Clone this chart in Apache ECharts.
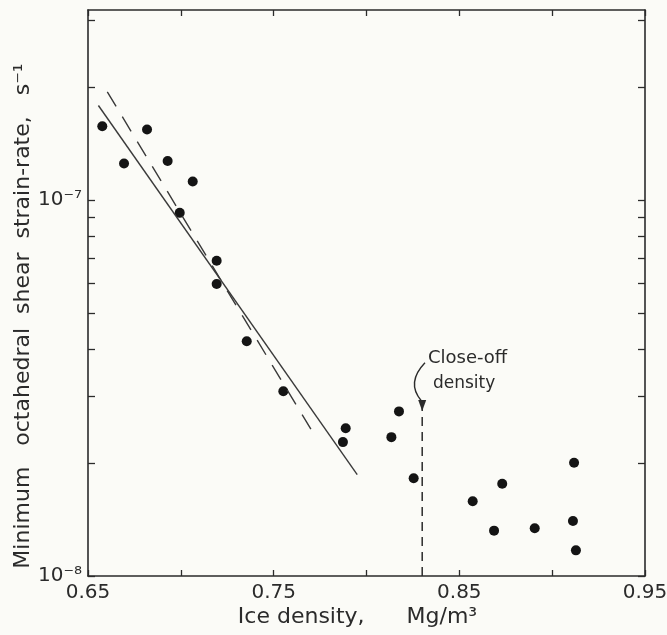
<!DOCTYPE html>
<html>
<head>
<meta charset="utf-8">
<script src="https://cdn.jsdelivr.net/npm/echarts@6/dist/echarts.min.js"></script>
<style>
  html, body { margin: 0; padding: 0; background: #fbfbf7; }
  #chart { width: 667px; height: 635px; }
</style>
</head>
<body>
<div id="chart"></div>
<script>
// measured points: ice density (Mg/m3) vs minimum octahedral shear strain-rate (s-1)
const density = [0.6577, 0.6694, 0.6818, 0.6929, 0.7064, 0.6994, 0.7193, 0.7193, 0.7355, 0.7552,
  0.7888, 0.7873, 0.8175, 0.8134, 0.8254, 0.8572, 0.8731, 0.8687, 0.8906, 0.9118, 0.9112, 0.9128];
const strainRate = [1.57e-7, 1.25e-7, 1.54e-7, 1.27e-7, 1.12e-7, 9.24e-8, 6.89e-8, 5.98e-8, 4.21e-8, 3.10e-8,
  2.47e-8, 2.27e-8, 2.74e-8, 2.34e-8, 1.82e-8, 1.58e-8, 1.76e-8, 1.32e-8, 1.34e-8, 2.00e-8, 1.40e-8, 1.17e-8];

// fitted lines (end points)
const solidFitX = [0.6556, 0.7950];
const solidFitY = [1.783e-7, 1.861e-8];
const dashFitX = [0.6604, 0.7724];
const dashFitY = [1.938e-7, 2.35e-8];

// close-off density marker
const closeOff = 0.83;
const closeOffY = [1e-8, 2.84e-8];

const xTicks = [0.65, 0.70, 0.75, 0.80, 0.85, 0.90, 0.95];
const xTickLabels = ['0.65', '', '0.75', '', '0.85', '', '0.95'];
const yMin = 1e-8, yMax = 3.2e-7;
const yMinor = [1e-8, 2e-8, 3e-8, 4e-8, 5e-8, 6e-8, 7e-8, 8e-8, 9e-8, 1e-7, 2e-7, 3e-7];
const yLabelValues = [1e-8, 1e-7];
const yLabelText = ['10⁻⁸', '10⁻⁷'];

const ink = '#2b2b2b';
const font = 'DejaVu Sans';

const chart = echarts.init(document.getElementById('chart'));

const tickY = {
  type: 'value',
  min: Math.log10(yMin),
  max: Math.log10(yMax),
  splitLine: { show: false },
  axisLine: { show: true, lineStyle: { color: ink, width: 1.6 } },
  axisTick: { show: true, inside: true, length: 7, lineStyle: { color: ink, width: 1.3 },
    customValues: yMinor.map(v => Math.log10(v)) }
};

const xBase = {
  type: 'value',
  min: 0.65,
  max: 0.95,
  interval: 0.05,
  splitLine: { show: false },
  axisLine: { show: true, onZero: false, lineStyle: { color: ink, width: 1.6 } },
  axisTick: { show: true, inside: true, length: 6, lineStyle: { color: ink, width: 1.3 } }
};

const option = {
  backgroundColor: '#fbfbf7',
  animation: false,
  grid: { left: 88, right: 22, top: 10, bottom: 59, outerBoundsMode: 'none' },
  xAxis: [
    Object.assign({}, xBase, {
      position: 'bottom',
      name: 'Ice density,      Mg/m³',
      nameLocation: 'middle',
      nameGap: 30,
      nameMoveOverlap: false,
      nameTextStyle: { fontFamily: font, fontSize: 22, color: ink, padding: [0, 18, 0, 0] },
      axisLabel: {
        margin: 7, fontFamily: font, fontSize: 20, color: ink,
        formatter: v => xTickLabels[xTicks.findIndex(t => Math.abs(t - v) < 1e-6)] || ''
      }
    }),
    Object.assign({}, xBase, { position: 'top', axisLabel: { show: false } })
  ],
  yAxis: [
    { type: 'log', logBase: 10, min: yMin, max: yMax, show: false },
    Object.assign({}, tickY, {
      position: 'left',
      name: 'Minimum   octahedral  shear  strain-rate,   s⁻¹',
      nameLocation: 'middle',
      nameGap: 54,
      nameMoveOverlap: false,
      nameTextStyle: { fontFamily: font, fontSize: 22, color: ink, padding: [0, 46, 0, 0] },
      axisLabel: {
        margin: 6, fontFamily: font, fontSize: 20, color: ink,
        customValues: yLabelValues.map(v => Math.log10(v)),
        formatter: v => {
          const i = yLabelValues.findIndex(t => Math.abs(Math.log10(t) - v) < 1e-6);
          return i >= 0 ? yLabelText[i] : '';
        }
      }
    }),
    Object.assign({}, tickY, { position: 'right', axisLabel: { show: false } })
  ],
  series: [
    {
      name: 'Measured',
      type: 'scatter',
      xAxisIndex: 0,
      yAxisIndex: 0,
      symbolSize: 10,
      itemStyle: { color: '#141414', opacity: 1 },
      data: density.map((d, i) => [d, strainRate[i]])
    },
    {
      name: 'Fit',
      type: 'line',
      xAxisIndex: 0,
      yAxisIndex: 0,
      symbol: 'none',
      lineStyle: { color: '#3a3a3a', width: 1.4 },
      data: solidFitX.map((d, i) => [d, solidFitY[i]])
    },
    {
      name: 'Fit (dashed)',
      type: 'line',
      xAxisIndex: 0,
      yAxisIndex: 0,
      symbol: 'none',
      lineStyle: { color: '#3a3a3a', width: 1.4, type: [17, 12] },
      data: dashFitX.map((d, i) => [d, dashFitY[i]])
    },
    {
      name: 'Close-off density',
      type: 'line',
      xAxisIndex: 0,
      yAxisIndex: 0,
      lineStyle: { color: '#2b2b2b', width: 1.5, type: [9, 6] },
      data: [
        { value: [closeOff, closeOffY[0]], symbol: 'none' },
        { value: [closeOff, closeOffY[1]], symbol: 'triangle', symbolRotate: 180, symbolSize: [8, 11],
          itemStyle: { color: '#2b2b2b' } }
      ]
    }
  ]
};

chart.setOption(option);

// curved arrow and label for the close-off density
const toPx = p => chart.convertToPixel({ xAxisIndex: 0, yAxisIndex: 0 }, p);
const a0 = toPx([0.8315, 3.69e-8]);
const ac = toPx([0.8213, 3.27e-8]);
const a1 = toPx([0.8294, 2.93e-8]);
const t1 = toPx([0.8331, 3.787e-8]);
const t2 = toPx([0.8358, 3.25e-8]);

chart.setOption({
  graphic: [
    {
      type: 'bezierCurve',
      shape: { x1: a0[0], y1: a0[1], cpx1: ac[0], cpy1: ac[1], x2: a1[0], y2: a1[1] },
      style: { stroke: '#2b2b2b', lineWidth: 1.4, fill: null }
    },
    {
      type: 'text', x: t1[0], y: t1[1],
      style: { text: 'Close-off', fontFamily: font, fontSize: 18, fill: ink, verticalAlign: 'middle' }
    },
    {
      type: 'text', x: t2[0], y: t2[1],
      style: { text: 'density', fontFamily: font, fontSize: 17, fill: ink, verticalAlign: 'middle' }
    }
  ]
});
</script>
</body>
</html>
